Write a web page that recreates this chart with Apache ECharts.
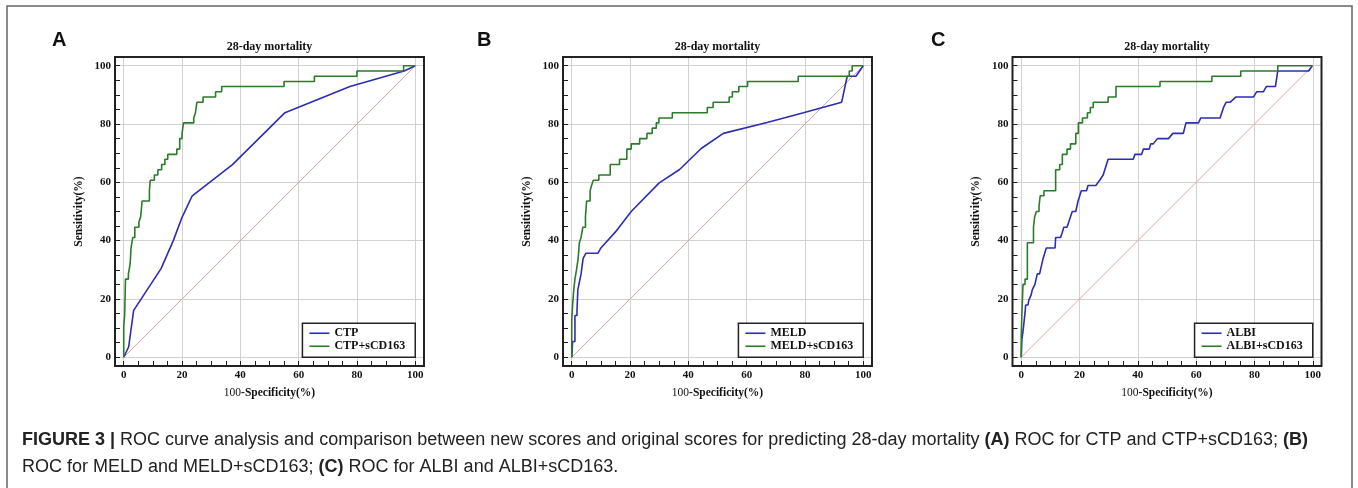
<!DOCTYPE html>
<html>
<head>
<meta charset="utf-8">
<title>ROC curves - 28-day mortality</title>
<script src="https://cdn.jsdelivr.net/npm/echarts@6.0.0/dist/echarts.min.js"></script>
<style>
  html, body { margin: 0; padding: 0; background: #fff; }
  #roc-chart { width: 1358px; height: 488px; }
</style>
</head>
<body>
<div id="roc-chart"></div>
<script>
// ROC points: [100-specificity, sensitivity], in %
const ctpRoc = [[0,0],[1.7,3.6],[3.4,16.1],[12.8,30.4],[17,40],[20,48],[23.5,55.4],[37.3,66.1],[55.3,83.9],[77.6,92.9],[96.2,98.2],[100,100]];
const ctpScdRoc = [[0,0],[0,10.7],[0.3,14.3],[0.6,26.8],[1.6,28.6],[2.2,32.1],[2.5,37.5],[3.1,41.1],[3.8,44.6],[5.2,46.4],[5.8,48.2],[6.3,53.6],[8.8,57.1],[9.1,60.7],[10.5,62.5],[11.7,64.3],[13,66.1],[14.1,67.9],[15.1,69.6],[18.2,71.4],[19.2,75],[20,76.8],[20.5,80.4],[24,82.1],[24.6,83.9],[25.1,87.5],[27.2,89.3],[31.5,91.1],[33.6,92.9],[55,94.6],[65.4,96.4],[80,98.2],[96,100],[100,100]];

const meldRoc = [[0,0],[0.3,0],[0.3,5.4],[1.1,5.4],[1.1,14.3],[1.8,14.3],[1.8,16.1],[2.1,23.2],[3.2,28.6],[3.9,33.9],[4.9,35.7],[9,35.7],[10,37.5],[15,43],[20.4,50],[30,59.8],[37,64.4],[44.4,71.6],[52,76.8],[67,80.5],[79.5,83.9],[92.6,87.5],[94.5,96.4],[97.5,96.4],[100,100]];
const meldScdRoc = [[0,0],[0,12.5],[0.3,17.9],[0.7,23.2],[1.1,26.8],[1.7,30.4],[2.2,33.9],[2.6,39.3],[3.2,41.1],[3.8,44.6],[4.7,48.2],[5.1,53.6],[6.3,57.1],[6.8,58.9],[7.4,60.7],[9.3,62.5],[13.2,66.1],[16.4,67.9],[18.9,71.4],[20.4,73.2],[23.3,75],[25.8,76.8],[27.6,78.6],[29,80.4],[29.9,82.1],[34.5,83.9],[46.5,85.7],[48.5,87.5],[54,89.3],[55.1,91.1],[57.3,92.9],[60.3,94.6],[77.7,96.4],[95.2,98.2],[96.2,100],[100,100]];

const albiRoc = [[0,0],[0.2,6],[0.6,8.9],[1,8.9],[1.3,15.2],[1.5,17.9],[2.3,17.9],[2.6,19.6],[3.4,21.4],[3.8,23.2],[4.4,23.2],[4.7,25],[5.2,25],[5.5,28.6],[6.3,28.6],[6.7,30.4],[7.2,30.4],[7.5,33.9],[8,33.9],[8.6,37.5],[11.6,37.5],[11.8,41.1],[13.5,41.1],[14.1,42.9],[14.6,44.6],[15.7,44.6],[16.9,48.2],[17.5,50],[18.7,50],[19.5,53.6],[20.6,57.1],[22.4,57.1],[22.9,58.9],[25.6,58.9],[26.9,60.7],[28.1,62.5],[29.8,67.9],[38.4,67.9],[39,69.6],[41.3,69.6],[41.9,71.4],[43.9,71.4],[44.4,73.2],[45.3,73.2],[46.7,75],[50.5,75],[52,76.8],[55.6,76.8],[56.5,80.4],[60.8,80.4],[61.6,82.1],[68.2,82.1],[69.4,85.7],[70.3,87.5],[71.7,87.5],[73.7,89.3],[79.7,89.3],[80.8,91.1],[83.1,91.1],[84.1,92.9],[87.2,92.9],[88,98.2],[98.6,98.2],[99.8,100],[100,100]];
const albiScdRoc = [[0,0],[0,7.1],[0.2,14.3],[0.6,25],[1.3,26.8],[2.1,39.3],[4.2,44.6],[4.6,48.2],[5.2,50],[6.1,51.8],[6.5,55.4],[7.8,57.1],[11.8,64.3],[13.2,66.1],[14.1,69.6],[15.7,71.4],[16.9,73.2],[18.7,76.8],[19.6,80.4],[21,82.1],[22.7,83.9],[23.7,85.7],[24.7,87.5],[29.8,89.3],[32.5,92.9],[47.6,94.6],[65.4,96.4],[75.3,98.2],[88,100],[100,100]];

const chanceLine = [[0,0],[100,100]];

const panelLetters = ['A', 'B', 'C'];
const panelTitle = '28-day mortality';
const modelNames = [['CTP', 'CTP+sCD163'], ['MELD', 'MELD+sCD163'], ['ALBI', 'ALBI+sCD163']];
const baseCurves = [ctpRoc, meldRoc, albiRoc];
const comboCurves = [ctpScdRoc, meldScdRoc, albiScdRoc];

const chartDom = document.getElementById('roc-chart');
const chart = echarts.init(chartDom);

const serif = '"Liberation Serif", "Times New Roman", serif';
const sans = '"Liberation Sans", Arial, Helvetica, sans-serif';
const blue = '#2d2db4';
const green = '#2b7b2b';

const frameLeft = [115, 563, 1012.5];
const letterLeft = [52, 477, 931];
const frameTop = 57;
const frameSize = 309;
const axisMin = -3, axisMax = 103;
const unitPx = frameSize / (axisMax - axisMin);

const grids = [], xAxes = [], yAxes = [], series = [], legends = [], titles = [];

frameLeft.forEach((left, p) => {
  grids.push({
    left: left, top: frameTop, width: frameSize, height: frameSize,
    show: true, z: 10, backgroundColor: 'transparent',
    borderColor: '#222', borderWidth: 2,
    containLabel: false, outerBoundsMode: 'none'
  });

  const labelStyle = {
    margin: 4, color: '#111', fontFamily: serif, fontWeight: 'bold', fontSize: 11,
    formatter: v => (v % 20 === 0 ? String(v) : '')
  };
  const mainAxis = {
    type: 'value', gridIndex: p, min: axisMin, max: axisMax,
    minInterval: 20, maxInterval: 20,
    axisLine: { show: false, onZero: false }, axisTick: { show: false },
    axisLabel: labelStyle,
    splitLine: { show: true, lineStyle: { color: '#d2d2d2', width: 1 } }
  };
  const tickAxis = {
    type: 'value', gridIndex: p, min: axisMin, max: axisMax,
    minInterval: 5, maxInterval: 5,
    axisLine: { show: false, onZero: false },
    axisTick: { show: true, inside: true, length: 5, lineStyle: { color: '#222', width: 1 } },
    axisLabel: { show: false }, splitLine: { show: false }
  };

  xAxes.push(Object.assign({}, mainAxis, {
    position: 'bottom',
    name: '{n|100}{b|-Specificity(%)}', nameLocation: 'middle', nameGap: 21,
    nameTextStyle: {
      rich: {
        n: { fontFamily: serif, fontSize: 11.5, fontWeight: 'normal', color: '#111' },
        b: { fontFamily: serif, fontSize: 11.5, fontWeight: 'bold', color: '#111' }
      }
    }
  }));
  xAxes.push(Object.assign({}, tickAxis, { position: 'bottom' }));

  yAxes.push(Object.assign({}, mainAxis, {
    position: 'left',
    name: 'Sensitivity(%)', nameLocation: 'middle', nameGap: 30,
    nameTextStyle: { fontFamily: serif, fontSize: 11.5, fontWeight: 'bold', color: '#111' }
  }));
  yAxes.push(Object.assign({}, tickAxis, { position: 'left' }));

  series.push({
    type: 'line', name: 'chance ' + p, data: chanceLine,
    xAxisIndex: 2 * p, yAxisIndex: 2 * p, symbol: 'none', silent: true, z: 1,
    lineStyle: { color: '#d9a6a6', width: 1 }
  });
  series.push({
    type: 'line', name: modelNames[p][0], data: baseCurves[p],
    xAxisIndex: 2 * p, yAxisIndex: 2 * p, symbol: 'none', z: 2,
    color: blue, itemStyle: { color: blue }, lineStyle: { color: blue, width: 1.6 }
  });
  series.push({
    type: 'line', name: modelNames[p][1], data: comboCurves[p], step: 'end',
    xAxisIndex: 2 * p, yAxisIndex: 2 * p, symbol: 'none', z: 3,
    color: green, itemStyle: { color: green }, lineStyle: { color: green, width: 1.6 }
  });

  // legend box sits in the corner at (100, 0)
  const right100 = left + (100 - axisMin) * unitPx;
  const bottom0 = frameTop + (axisMax - 0) * unitPx;
  legends.push({
    data: modelNames[p], orient: 'vertical', selectedMode: false,
    right: 1358 - right100, bottom: 488 - bottom0,
    icon: 'rect', itemWidth: 20, itemHeight: 1.6, itemGap: 1,
    padding: [4, 10, 5, 7],
    borderColor: '#222', borderWidth: 1.5, backgroundColor: '#fff',
    textStyle: { fontFamily: serif, fontWeight: 'bold', fontSize: 12, color: '#111' }
  });

  titles.push({
    text: panelTitle, left: left + frameSize / 2, top: 46.7, padding: 0,
    textAlign: 'center', textVerticalAlign: 'middle',
    textStyle: { fontFamily: serif, fontWeight: 'bold', fontSize: 12, color: '#111' }
  });
  titles.push({
    text: panelLetters[p], left: letterLeft[p], top: 40.5, padding: 0,
    textAlign: 'left', textVerticalAlign: 'middle',
    textStyle: { fontFamily: sans, fontWeight: 'bold', fontSize: 20, color: '#111' }
  });
});

titles.push({
  text: '{b|FIGURE 3 |} ROC curve analysis and comparison between new scores and original scores for predicting 28-day mortality {b|(A)} ROC for CTP and CTP+sCD163; {b|(B)}\n' +
        'ROC for MELD and MELD+sCD163; {b|(C)} ROC for ALBI and ALBI+sCD163.',
  left: 22, top: 426.5, padding: 0,
  textStyle: {
    fontFamily: sans, fontSize: 18, fontWeight: 'normal', color: '#222', lineHeight: 27,
    rich: { b: { fontFamily: sans, fontSize: 18, fontWeight: 'bold', color: '#222', lineHeight: 27 } }
  }
});

chart.setOption({
  backgroundColor: '#fff',
  animation: false,
  title: titles,
  legend: legends,
  grid: grids,
  xAxis: xAxes,
  yAxis: yAxes,
  series: series,
  graphic: [{
    type: 'rect', silent: true,
    shape: { x: 7, y: 6, width: 1345, height: 500 },
    style: { fill: 'none', stroke: '#666', lineWidth: 1.5 }
  }]
});

window.addEventListener('resize', function () {
  chart.resize();
});
</script>
</body>
</html>
